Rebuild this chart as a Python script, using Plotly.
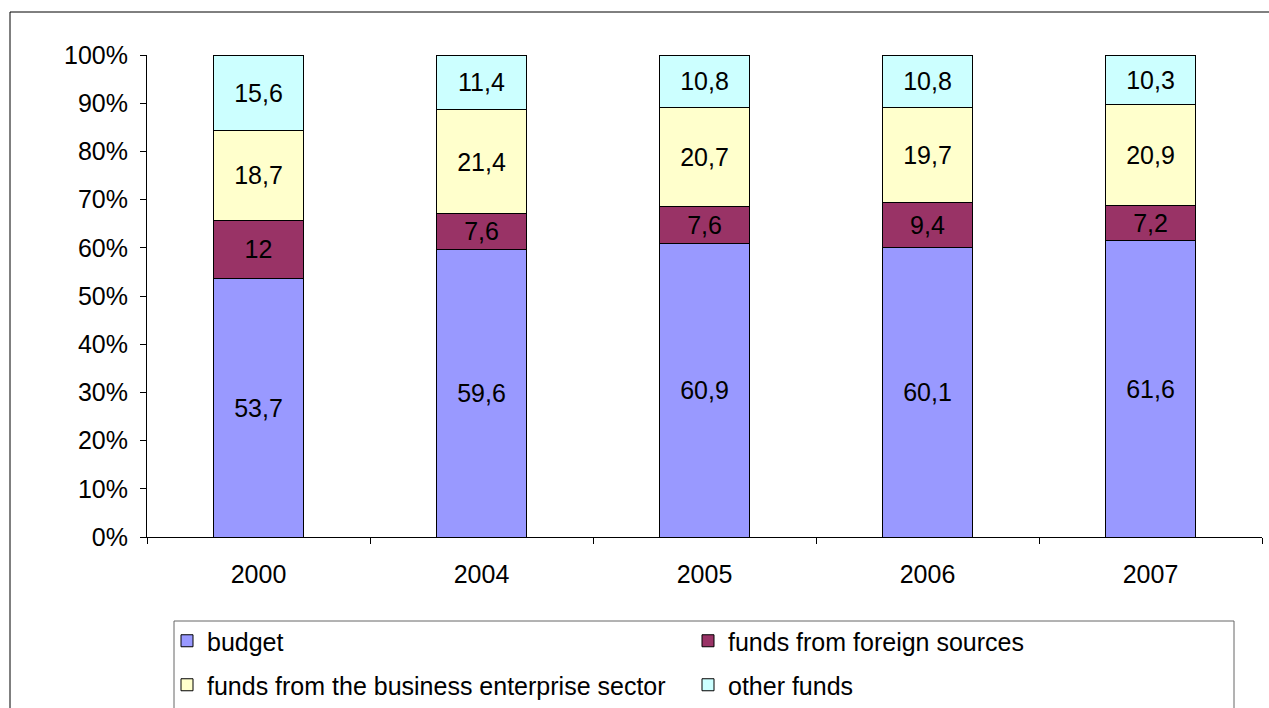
import plotly.graph_objects as go

years = ["2000", "2004", "2005", "2006", "2007"]
budget = [53.7, 59.6, 60.9, 60.1, 61.6]
foreign = [12, 7.6, 7.6, 9.4, 7.2]
business = [18.7, 21.4, 20.7, 19.7, 20.9]
other = [15.6, 11.4, 10.8, 10.8, 10.3]

series = [
    ("budget", budget, "#9999FF", "legend"),
    ("funds from foreign sources", foreign, "#993366", "legend2"),
    ("funds from the business enterprise sector", business, "#FFFFCC", "legend3"),
    ("other funds", other, "#CCFFFF", "legend4"),
]

FONT = "Liberation Sans, Arial, sans-serif"
FS = 25

W, H = 1269, 708
L, R, T, B = 147, 7, 55, 171
PW = W - L - R
PH = H - T - B


def px2x(px):
    return (px - L) / PW


def px2y(py):
    return (H - B - py) / PH


def fmt(v):
    return ("%g" % v).replace(".", ",")


fig = go.Figure()
for name, vals, color, leg in series:
    fig.add_trace(go.Bar(
        x=years, y=vals, name=name,
        marker=dict(color=color, line=dict(color="black", width=1)),
        text=[fmt(v) for v in vals],
        textposition="inside", insidetextanchor="middle", textangle=0,
        textfont=dict(family=FONT, size=FS, color="black"),
        constraintext="none",
        legend=leg,
    ))

legend_common = dict(
    orientation="h", bgcolor="rgba(0,0,0,0)", borderwidth=0,
    font=dict(family=FONT, size=FS, color="black"),
    xanchor="left", yanchor="middle",
)

col1, col2 = 167, 688
row1, row2 = 641, 685

fig.update_layout(
    width=W, height=H,
    margin=dict(l=L, r=R, t=T, b=B, pad=0, autoexpand=False),
    paper_bgcolor="white", plot_bgcolor="white",
    barmode="stack", bargap=0.6,
    font=dict(family=FONT, size=FS, color="black"),
    showlegend=True,
    legend=dict(legend_common, x=px2x(col1), y=px2y(row1)),
    legend2=dict(legend_common, x=px2x(col2), y=px2y(row1)),
    legend3=dict(legend_common, x=px2x(col1), y=px2y(row2)),
    legend4=dict(legend_common, x=px2x(col2), y=px2y(row2)),
    xaxis=dict(
        type="category", range=[-0.5, 4.5],
        showline=True, linecolor="black", linewidth=1,
        ticks="outside", tickson="boundaries", ticklen=6, tickcolor="black",
        tickfont=dict(family=FONT, size=FS, color="black"),
        ticklabelstandoff=15, automargin=False,
        showgrid=False, zeroline=False,
    ),
    yaxis=dict(
        range=[0, 100], dtick=10, ticksuffix="%",
        showline=True, linecolor="black", linewidth=1,
        ticks="outside", ticklen=6, tickcolor="black",
        tickfont=dict(family=FONT, size=FS, color="black"),
        ticklabelstandoff=7, automargin=False,
        showgrid=False, zeroline=False,
    ),
    shapes=[
        dict(type="rect", xref="paper", yref="paper",
             x0=px2x(10), x1=px2x(1290), y0=px2y(730), y1=px2y(12),
             line=dict(color="black", width=1), fillcolor="rgba(0,0,0,0)",
             layer="below"),
        dict(type="rect", xref="paper", yref="paper",
             x0=px2x(174), x1=px2x(1234), y0=px2y(730), y1=px2y(621),
             line=dict(color="#666666", width=1), fillcolor="rgba(0,0,0,0)",
             layer="below"),
    ],
)

fig.write_html(
    "out.html",
    config={"displayModeBar": False},
    post_script="document.body.style.margin='0px';document.body.style.overflow='hidden';",
)
